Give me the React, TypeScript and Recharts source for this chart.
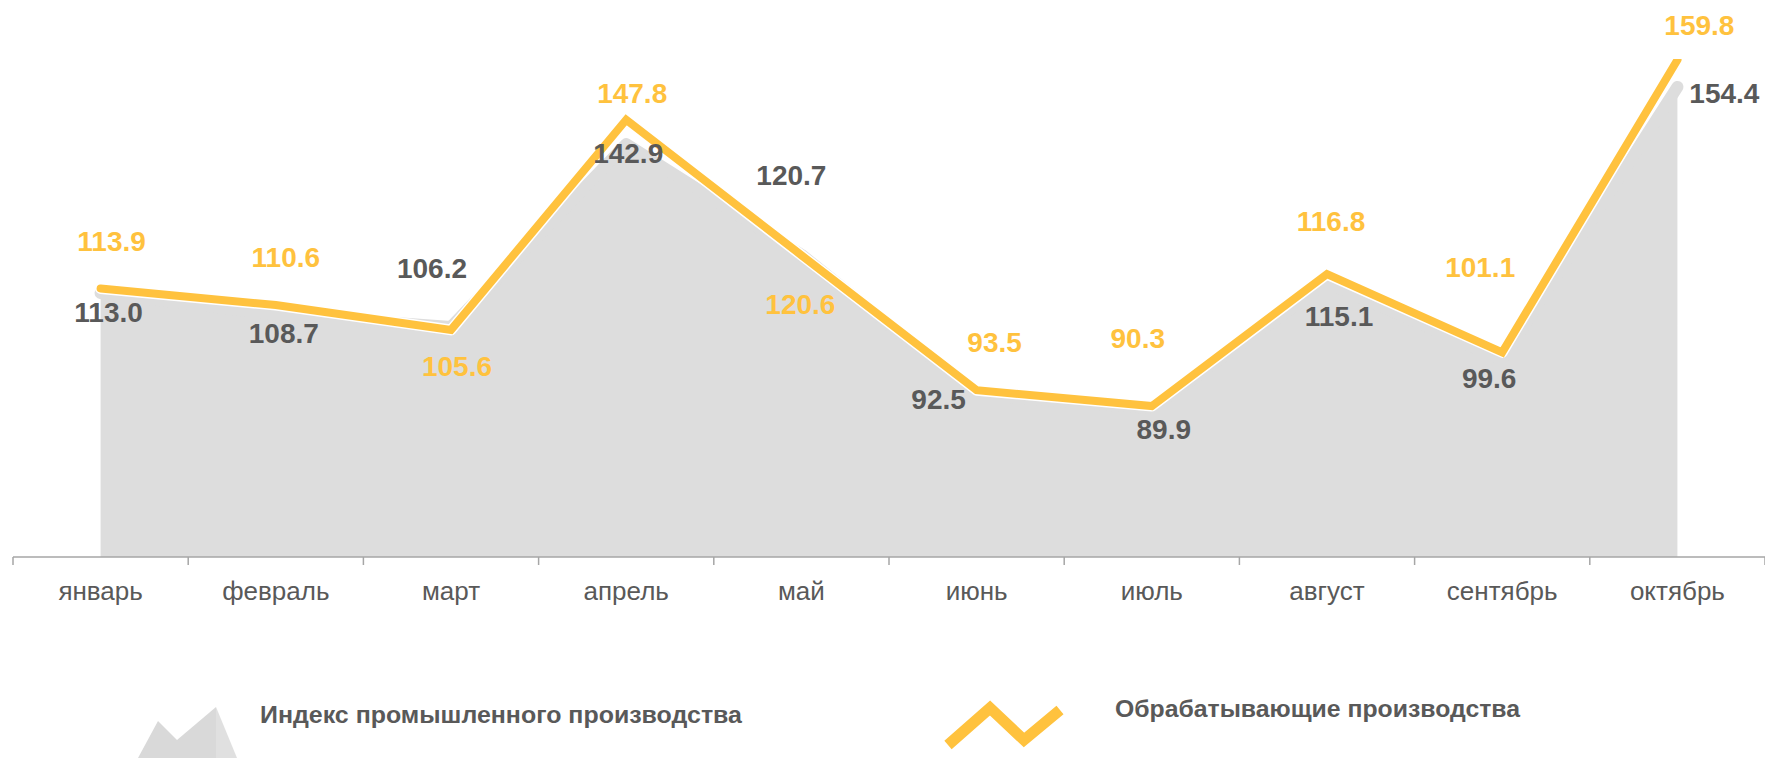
import React from 'react';
import { ComposedChart, Area, Line, XAxis, YAxis, LabelList } from 'recharts';

const months = ['январь', 'февраль', 'март', 'апрель', 'май', 'июнь', 'июль', 'август', 'сентябрь', 'октябрь'];
const industrialIndex = [113.0, 108.7, 106.2, 142.9, 120.7, 92.5, 89.9, 115.1, 99.6, 154.4];
const manufacturing = [113.9, 110.6, 105.6, 147.8, 120.6, 93.5, 90.3, 116.8, 101.1, 159.8];
const seriesNames = ['Индекс промышленного производства', 'Обрабатывающие производства'];

// manual label placement (dx, dy from the point), like the original chart
const manufLabelOffsets: [number, number][] = [[11, -48], [10, -48], [6, 36], [6, -27], [-1, 49], [18, -48], [-14, -68], [4, -53], [-22, -85], [22, -35]];
const indexLabelOffsets: [number, number][] = [[8, 19], [8, 19], [-19, -59], [2, 9], [-10, -80], [-38, 4], [12, 21], [12, 33], [-13, 18], [47, 6]];

const W = 1765;
const H = 758;
const M = { top: 59, right: 0, bottom: 141, left: 13 };
const PLOT_W = W - M.left - M.right;
const BAND = PLOT_W / months.length;

const YELLOW = '#FFC23E';
const GRAY_AREA = '#dddddd';
const TEXT_GRAY = '#595959';
const FONT = '"Liberation Sans", Arial, sans-serif';

const data = months.map((m, i) => ({ month: m, index: industrialIndex[i], manuf: manufacturing[i] }));

const makeLabel = (values: number[], offsets: [number, number][], color: string) => (props: any) => {
  const vb = props.viewBox || {};
  const x = props.x ?? vb.x;
  const y = props.y ?? vb.y;
  const value = Number(props.value);
  let idx = props.index;
  if (idx === undefined || idx === null) idx = values.indexOf(value);
  const off = offsets[idx] || [0, 0];
  if (x === undefined || y === undefined) return null;
  return (
    <text
      key={`lbl-${color}-${idx}`}
      x={x + off[0]}
      y={y + off[1] + 10}
      textAnchor="middle"
      fontFamily={FONT}
      fontWeight="bold"
      fontSize={28}
      fill={color}
    >
      {value.toFixed(1)}
    </text>
  );
};

const MonthTick = (props: any) => {
  const { x, y, payload, index } = props;
  const isLast = index === months.length - 1;
  return (
    <g>
      <line x1={x - BAND / 2} x2={x - BAND / 2} y1={y} y2={y + 8} stroke="#a6a6a6" strokeWidth={1.5} />
      {isLast && <line x1={x + BAND / 2} x2={x + BAND / 2} y1={y} y2={y + 8} stroke="#a6a6a6" strokeWidth={1.5} />}
      <text x={x} y={y + 43} textAnchor="middle" fontFamily={FONT} fontSize={26} fill={TEXT_GRAY}>
        {payload.value}
      </text>
    </g>
  );
};

const LegendOverlay = () => (
  <svg width={W} height={H} style={{ position: 'absolute', left: 0, top: 0, pointerEvents: 'none' }}>
    <polygon points="138,758 158,721 177,740 216,707 216,758" fill="#d9d9d9" />
    <polygon points="216,707 237,758 216,758" fill="#e0e0e0" />
    <text x={260} y={723} fontFamily={FONT} fontWeight="bold" fontSize={24} fill={TEXT_GRAY} textLength={482} lengthAdjust="spacingAndGlyphs">
      {seriesNames[0]}
    </text>
    <polyline points="948,745 990,708 1024,740 1060,710" fill="none" stroke={YELLOW} strokeWidth={11} strokeLinejoin="miter" />
    <text x={1115} y={717} fontFamily={FONT} fontWeight="bold" fontSize={24} fill={TEXT_GRAY} textLength={405} lengthAdjust="spacingAndGlyphs">
      {seriesNames[1]}
    </text>
  </svg>
);

export default function App() {
  return (
    <div style={{ position: 'absolute', left: 0, top: 0, width: W, height: H, background: '#fff' }}>
      <ComposedChart width={W} height={H} data={data} margin={M}>
        <XAxis
          dataKey="month"
          padding={{ left: BAND / 2, right: BAND / 2 }}
          axisLine={{ stroke: '#a6a6a6', strokeWidth: 1.5 }}
          tickLine={false}
          tickSize={0}
          tickMargin={0}
          height={60}
          tick={<MonthTick />}
          interval={0}
        />
        <YAxis hide domain={[60, 160]} type="number" allowDataOverflow />
        <Area
          type="linear"
          dataKey="index"
          name={seriesNames[0]}
          fill={GRAY_AREA}
          fillOpacity={1}
          stroke={GRAY_AREA}
          strokeWidth={12}
          strokeLinejoin="round"
          strokeLinecap="round"
          dot={false}
          activeDot={false}
          isAnimationActive={false}
        />
        <Line
          type="linear"
          dataKey="manuf"
          stroke="#ffffff"
          strokeWidth={11}
          strokeLinecap="round"
          strokeLinejoin="round"
          dot={false}
          activeDot={false}
          legendType="none"
          isAnimationActive={false}
        />
        <Line
          type="linear"
          dataKey="manuf"
          name={seriesNames[1]}
          stroke={YELLOW}
          strokeWidth={8}
          strokeLinecap="round"
          strokeLinejoin="miter"
          dot={false}
          activeDot={false}
          isAnimationActive={false}
        >
          <LabelList dataKey="manuf" content={makeLabel(manufacturing, manufLabelOffsets, YELLOW)} />
        </Line>
        <Line
          type="linear"
          dataKey="index"
          stroke="none"
          dot={false}
          activeDot={false}
          legendType="none"
          isAnimationActive={false}
        >
          <LabelList dataKey="index" content={makeLabel(industrialIndex, indexLabelOffsets, TEXT_GRAY)} />
        </Line>
      </ComposedChart>
      <LegendOverlay />
    </div>
  );
}
